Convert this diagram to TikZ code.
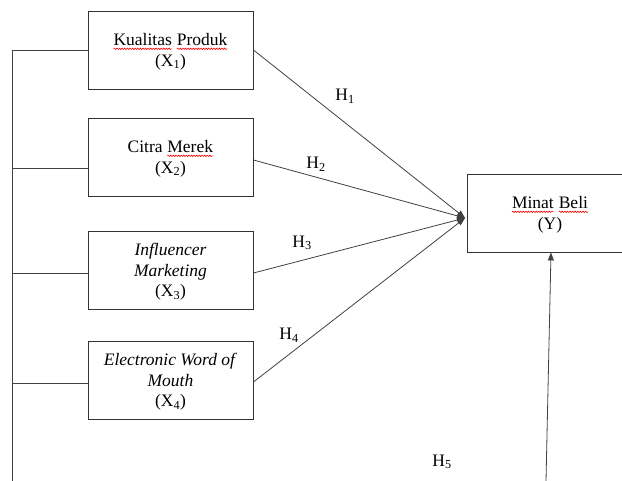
\documentclass[tikz,border=0pt]{standalone}
\usepackage{fontspec}
\setmainfont{Liberation Serif}
\usepackage{xcolor}
\usetikzlibrary{arrows.meta,decorations.pathmorphing}

% red spell-check wave under a word
\newcommand\redwave[1]{\tikz[baseline=(w.base),x=1pt,y=1pt]{%
  \node[draw=none,inner sep=0pt,outer sep=0pt,minimum width=0pt,minimum height=0pt,
    text depth=,anchor=base] (w) {#1};
  \draw[red, line width=0.6pt, decorate, decoration={snake, amplitude=0.7pt, segment length=2.6pt}]
    ([yshift=-3pt]w.base west) -- ([yshift=-3pt]w.base east);}}

\tikzset{
  var/.style={draw=black!80, line width=0.9pt, minimum width=165pt, minimum height=78pt,
    inner sep=0pt, text depth=-5pt, align=center, font=\fontsize{17.5}{20.5}\selectfont},
  hlabel/.style={inner sep=0pt, font=\fontsize{17.5}{20.5}\selectfont},
  link/.style={draw=black!75, line width=0.8pt},
  hyp/.style={link, -{Triangle[length=8pt,width=6pt]}}
}

\begin{document}
\begin{tikzpicture}[x=1pt,y=-1pt]
\useasboundingbox (0,0) rectangle (622,481);
\clip (0,0) rectangle (622,481);

\node[var] (X1) at (170.5,50) {\redwave{Kualitas} \redwave{Produk}\\(X\textsubscript{1})};
\node[var] (X2) at (170.5,157) {Citra \redwave{Merek}\\(X\textsubscript{2})};
\node[var] (X3) at (170.5,270) {\textit{Influencer}\\\textit{Marketing}\\(X\textsubscript{3})};
\node[var] (X4) at (170.5,380) {\textit{Electronic Word of}\\\textit{Mouth}\\(X\textsubscript{4})};
\node[var] (Y) at (550,213) {\redwave{Minat} \redwave{Beli}\\(Y)};

% left bus
\coordinate (busTop) at (12,51);
\coordinate (busEnd) at (12,481);
\draw[link] (busTop) -- (busEnd);
\draw[link] (X1.west) -- (X1.west -| busTop);
\draw[link] ([yshift=-11pt]X2.west) -- ([yshift=-11pt]X2.west -| busTop);
\draw[link] ([yshift=-3pt]X3.west) -- ([yshift=-3pt]X3.west -| busTop);
\draw[link] ([yshift=-3pt]X4.west) -- ([yshift=-3pt]X4.west -| busTop);

% hypotheses
\coordinate (hub) at ([shift={(-2pt,-5pt)}]Y.west);
\draw[hyp] (X1.east) -- (hub);
\draw[hyp] ([yshift=-3pt]X2.east) -- (hub);
\draw[hyp] ([yshift=-3pt]X3.east) -- (hub);
\draw[hyp] ([yshift=-2pt]X4.east) -- (hub);
\coordinate (base) at (546,481);
\draw[hyp] (base) -- ([xshift=1pt]Y.south);

\node[hlabel] (h1) at (345,96) {H\textsubscript{1}};
\node[hlabel] (h2) at (316,164) {H\textsubscript{2}};
\node[hlabel] (h3) at (302,243) {H\textsubscript{3}};
\node[hlabel] (h4) at (289,335) {H\textsubscript{4}};
\node[hlabel] (h5) at (442,462) {H\textsubscript{5}};
\end{tikzpicture}
\end{document}
